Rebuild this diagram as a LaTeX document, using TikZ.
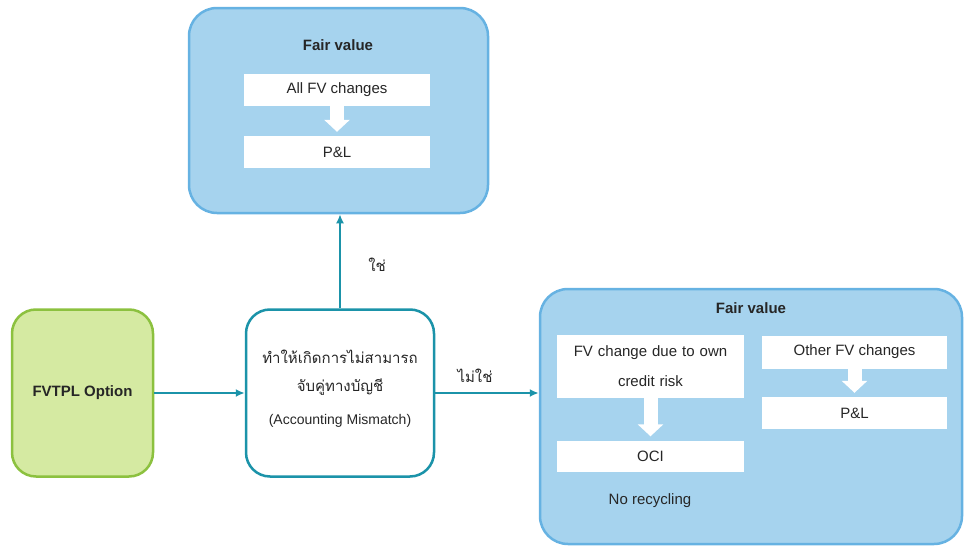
\documentclass[tikz,border=0pt]{standalone}
\usepackage{fontspec}
\setmainfont{Liberation Sans}
\newfontfamily\thaifont[Script=Thai]{Loma}
\usetikzlibrary{arrows.meta}

\definecolor{fvfill}{HTML}{A6D3EE}
\definecolor{fvedge}{HTML}{66B2E2}
\definecolor{linkteal}{HTML}{1B93A9}
\definecolor{optfill}{HTML}{D5EAA2}
\definecolor{optedge}{HTML}{8CC13F}
\definecolor{inktext}{HTML}{262626}

\tikzset{
  fvbox/.style={draw=fvedge, fill=fvfill, line width=2.5pt, rounded corners=28pt, inner sep=0pt},
  optbox/.style={draw=optedge, fill=optfill, line width=2.5pt, rounded corners=24pt, inner sep=0pt},
  askbox/.style={draw=linkteal, fill=white, line width=2.5pt, rounded corners=24pt, inner sep=0pt},
  cell/.style={fill=white, inner sep=0pt, text=inktext, font=\fontsize{15}{30}\selectfont, align=center},
  link/.style={draw=linkteal, line width=2pt, -{Latex[length=9pt,width=8pt]}},
  flow/.style={draw=white, line width=14pt, shorten >=4pt, -{Triangle[width=25pt,length=12pt]}}
}

\begin{document}
\begin{tikzpicture}[x=1pt,y=-1pt]
\useasboundingbox (0,0) rectangle (964,546);

\path (338.5,110.5) node[fvbox, minimum width=299, minimum height=205] (fvtop) {}
      (338,45) node[text=inktext, font=\fontsize{15}{18}\selectfont\bfseries] (fvtoptitle) {Fair value}
      (337,90) node[cell, minimum width=186, minimum height=32] (allfv) {All FV changes}
      (337,152) node[cell, minimum width=186, minimum height=32] (pltop) {P\&L}
      (82.5,393) node[optbox, minimum width=141, minimum height=167, text=inktext, font=\fontsize{15}{18}\selectfont\bfseries] (fvtpl) {FVTPL Option}
      (340,393) node[askbox, minimum width=188, minimum height=167] (mismatch) {}
      (340,357) node[text=inktext, font=\fontsize{15}{18}\thaifont] (thaiA) {ทำให้เกิดการไม่สามารถ}
      (340,387) node[text=inktext, font=\fontsize{15}{18}\thaifont] (thaiB) {จับคู่ทางบัญชี}
      (340,421) node[text=inktext, font=\fontsize{14}{18}\selectfont] (acctmm) {(Accounting Mismatch)}
      (751,416.5) node[fvbox, minimum width=422, minimum height=255] (fvright) {}
      (751,308) node[text=inktext, font=\fontsize{15}{18}\selectfont\bfseries] (fvrighttitle) {Fair value}
      (650.5,366.5) node[cell, minimum width=187, minimum height=63, text width=187] (owncr) {FV change due to own\\credit risk}
      (650.5,456) node[cell, minimum width=187, minimum height=31] (oci) {OCI}
      (650,501) node[text=inktext, font=\fontsize{15}{18}\selectfont] (norecyc) {No recycling}
      (854.5,352) node[cell, minimum width=185, minimum height=33] (otherfv) {Other FV changes}
      (854.5,413) node[cell, minimum width=185, minimum height=32] (plright) {P\&L}
      (377,265) node[text=inktext, font=\fontsize{15}{18}\thaifont] (yes) {ใช่}
      (475,376) node[text=inktext, font=\fontsize{15}{18}\thaifont] (no) {ไม่ใช่};

\draw[link] (fvtpl) -- (mismatch);
\draw[link] (mismatch.east) -- (mismatch.east -| fvright.west);
\draw[link] (mismatch.north) -- (mismatch.north |- fvtop.south);

\draw[flow] (allfv) -- (pltop);
\draw[flow] (owncr) -- (oci);
\draw[flow] (otherfv) -- (plright);
\end{tikzpicture}
\end{document}
